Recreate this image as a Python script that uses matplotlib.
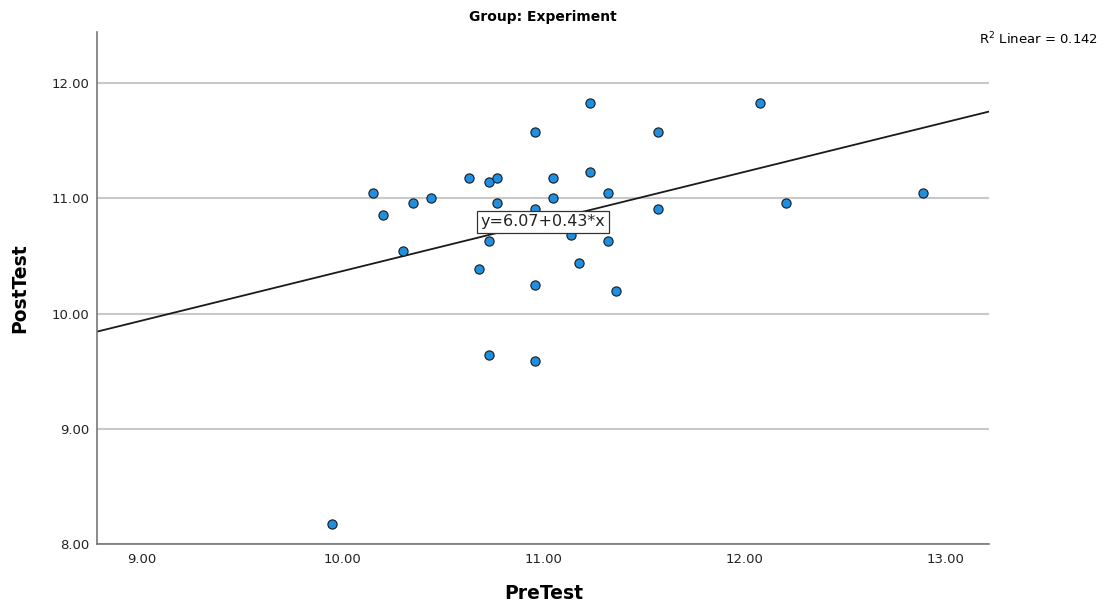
import numpy as np
import matplotlib
matplotlib.use("Agg")
import matplotlib.pyplot as plt

# PreTest / PostTest scores (Group: Experiment)
pre_test = [10.15, 10.20, 10.35, 10.44, 10.30, 10.63, 10.73, 10.77, 10.77, 10.73,
            10.68, 10.96, 10.96, 10.96, 11.05, 11.05, 11.23, 11.23, 11.32, 11.32,
            11.14, 11.18, 11.36, 11.57, 11.57, 10.73, 10.96, 12.08, 12.89, 12.21,
            9.95]
post_test = [11.05, 10.86, 10.96, 11.00, 10.54, 11.18, 11.14, 11.18, 10.96, 10.63,
             10.39, 11.58, 10.91, 10.25, 11.18, 11.00, 11.83, 11.23, 11.05, 10.63,
             10.68, 10.44, 10.20, 11.58, 10.91, 9.64, 9.59, 11.83, 11.05, 10.96,
             8.18]

# fit line as reported by SPSS
intercept = 6.07
slope = 0.43
r_squared = 0.142

x_ticks = [9, 10, 11, 12, 13]
y_ticks = [8, 9, 10, 11, 12]

fig = plt.figure(figsize=(11.2, 6.07), dpi=100)
ax = fig.add_axes([0.0869, 0.1033, 0.7964, 0.8432])

xlim = (8.78, 13.22)
ylim = (8.0, 12.44)

# horizontal gridlines only
for yv in y_ticks:
    ax.axhline(yv, color="#c8c8c8", lw=1.5, zorder=1)

xs = np.array(xlim)
ax.plot(xs, intercept + slope * xs, color="#1a1a1a", lw=1.3, zorder=2)

ax.scatter(pre_test, post_test, s=44, c="#1e8fe1", edgecolors="#1a1a1a",
           linewidths=0.8, zorder=3)

ax.text(11.0, 10.80, f"y={intercept:.2f}+{slope:.2f}*x", fontsize=11.5,
        ha="center", va="center", color="#222222", zorder=4,
        bbox=dict(facecolor="white", edgecolor="#333333", lw=0.9, pad=2.5))

ax.set_xlim(*xlim)
ax.set_ylim(*ylim)
ax.set_xticks(x_ticks)
ax.set_yticks(y_ticks)
ax.set_xticklabels([f"{v:.2f}" for v in x_ticks])
ax.set_yticklabels([f"{v:.2f}" for v in y_ticks])
ax.tick_params(length=0, labelsize=9.5, labelcolor="#222222", pad=6)

for side in ["top", "right"]:
    ax.spines[side].set_visible(False)
for side in ["left", "bottom"]:
    ax.spines[side].set_color("#777777")
    ax.spines[side].set_linewidth(1.2)

ax.set_xlabel("PreTest", fontsize=13.5, fontweight="bold", labelpad=13)
ax.set_ylabel("PostTest", fontsize=13.5, fontweight="bold", labelpad=16)

fig.text(0.485, 0.972, "Group: Experiment", fontsize=10, fontweight="bold",
         ha="center", va="center")
fig.text(0.874, 0.936, f"R$^2$ Linear = {r_squared:.3f}", fontsize=9.5,
         ha="left", va="center")

fig.savefig("out.png", dpi=100)
